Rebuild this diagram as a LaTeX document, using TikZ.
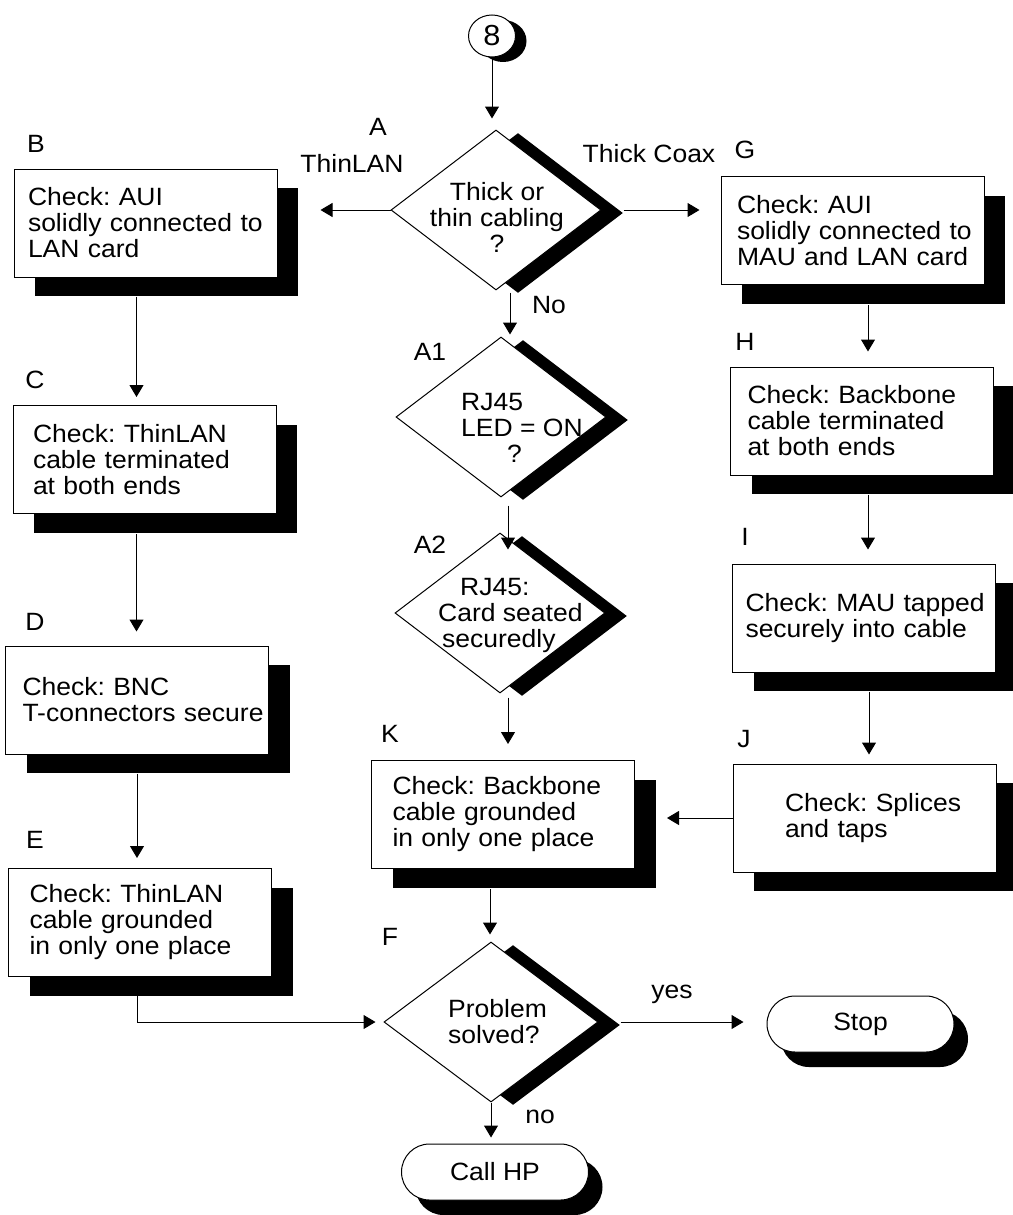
\documentclass[tikz,border=0pt]{standalone}
\usepackage{fontspec}
\setmainfont[FakeStretch=1.06]{Liberation Sans}
\usetikzlibrary{arrows.meta,shapes.geometric,shadows,calc}
\frenchspacing
\begin{document}
\begin{tikzpicture}[x=1pt,y=-1pt,
  every node/.style={font=\fontsize{25}{26}\selectfont},
  boxshadow/.style={drop shadow={opacity=1,fill=black,shadow xshift=21pt,shadow yshift=-19pt}},
  diashadow/.style={drop shadow={opacity=1,fill=black,shadow xshift=22pt,shadow yshift=-3pt}},
  termshadow/.style={drop shadow={opacity=1,fill=black,shadow xshift=14pt,shadow yshift=-15pt}},
  circshadow/.style={drop shadow={opacity=1,fill=black,shadow xshift=11pt,shadow yshift=-5pt}},
  checkbox/.style={rectangle, draw, fill=white, line width=1pt,
    minimum width=263pt, minimum height=108pt, text width=263pt,
    inner xsep=0pt, inner ysep=0pt, align=left, boxshadow},
  inset/.style={execute at begin node={\leftskip=#1pt}},
  decision/.style={diamond, draw, fill=white, line width=1pt,
    minimum width=210pt, minimum height=160pt, inner sep=0pt, diashadow},
  terminal/.style={rectangle, rounded corners=28pt, draw, fill=white, line width=1pt,
    minimum width=187pt, minimum height=56pt, inner sep=0pt, termshadow},
  connector/.style={ellipse, draw, fill=white, line width=1pt,
    minimum width=47pt, minimum height=42pt, inner sep=0pt, circshadow,
    font=\fontsize{29}{30}\selectfont},
  dtext/.style={inner sep=0pt},
  tag/.style={anchor=base, inner sep=0pt},
  arr/.style={line width=1pt, -{Triangle[length=12pt,width=14pt]}}
]
\useasboundingbox (0,0) rectangle (1012,1215);

% entry connector
\node[connector] (c8) at (492,36) {8};

% decisions
\node[decision] (A)  at (496,210)  {};
\node[dtext, align=center] (At) at (497,217) {Thick or\\thin cabling\\?};
\node[decision] (A1) at (501,417)  {};
\node[dtext, align=left, anchor=west] (A1t) at (461,428) {RJ45\\LED = ON\\\hspace*{46pt}?};
\node[decision] (A2) at (500,613)  {};
\node[dtext, align=left, anchor=west] (A2t) at (438,615) {\hspace*{22pt}RJ45:\\Card seated\\\hspace*{4pt}securedly};
\node[decision, minimum width=214pt] (F) at (491,1022) {};
\node[dtext, align=left, anchor=west] (Ft) at (448,1022) {Problem\\solved?};

% ThinLAN branch
\node[checkbox, inset=14] (B) at (145.5,223)   {Check: AUI\\solidly connected to\\LAN card};
\node[checkbox, inset=20] (C) at (144.5,459.5) {Check: ThinLAN\\cable terminated\\at both ends};
\node[checkbox, inset=17] (D) at (137,700)     {Check: BNC\\T-connectors secure};
\node[checkbox, inset=21] (E) at (140,922.5)   {Check: ThinLAN\\cable grounded\\in only one place};

% Thick coax branch
\node[checkbox, inset=16] (G) at (852.5,230.5) {Check: AUI\\solidly connected to\\MAU and LAN card};
\node[checkbox, inset=17] (H) at (862,421)     {Check: Backbone\\cable terminated\\at both ends};
\node[checkbox, inset=13] (I) at (864,618)     {Check: MAU tapped\\securely into cable};
\node[checkbox, inset=52] (J) at (864.5,818)   {Check: Splices\\and taps};
\node[checkbox, inset=21] (K) at (503,814.5)   {Check: Backbone\\cable grounded\\in only one place};

% terminals
\node[terminal] (stop) at (860.5,1024) {Stop};
\node[terminal] (call) at (495,1172)   {Call HP};

% step letters and branch labels
\node[tag] (lA)  at (378,135) {A};
\node[tag] (lA1) at (430,360) {A1};
\node[tag] (lA2) at (430,553) {A2};
\node[tag] (lB)  at (36,152)  {B};
\node[tag] (lC)  at (35,388)  {C};
\node[tag] (lD)  at (35,630)  {D};
\node[tag] (lE)  at (35,848)  {E};
\node[tag] (lF)  at (390,945) {F};
\node[tag] (lG)  at (745,158) {G};
\node[tag] (lH)  at (745,350) {H};
\node[tag] (lI)  at (745,545) {I};
\node[tag] (lJ)  at (744,747) {J};
\node[tag] (lK)  at (390,742) {K};
\node[tag] (lthin)  at (352,172)  {ThinLAN};
\node[tag] (lthick) at (649,162)  {Thick Coax};
\node[tag] (lno1)   at (549,313)  {No};
\node[tag] (lyes)   at (672,998)  {yes};
\node[tag] (lno2)   at (540,1123) {no};

% connectors
\draw[arr] (c8.south) -- ($(c8.south |- A.north)+(0,-11)$);
\draw[arr] (A.west) -- ($(B.east |- A.west)+(43,0)$);
\draw[arr] ($(A.east)+(22,0)$) -- ($(G.west |- A.east)+(-21,0)$);
\draw[arr] ($(A.south)+(14,2)$) coordinate (a0) -- ($(a0 |- A1.north)+(0,-2)$);
\draw[arr] ($(A1.south)+(7,8)$) coordinate (a1) -- ($(a1 |- A2.north)+(0,17)$);
\draw[arr] ($(A2.south)+(8,4)$) coordinate (a2) -- ($(a2 |- K.north)+(0,-16)$);
\draw[arr] ($(K.south)+(-13,20)$) coordinate (k0) -- ($(k0 |- F.north)+(0,-7)$);
\draw[arr] (F.south) -- ($(F.south |- call.north)+(0,-6)$);
\draw[arr] ($(F.east)+(22,0)$) -- ($(stop.west |- F.east)+(-23,0)$);

\draw[arr] ($(B.south)+(-9,19)$) coordinate (b0) -- ($(b0 |- C.north)+(0,-8)$);
\draw[arr] ($(C.south)+(-8,20)$) coordinate (c0) -- ($(c0 |- D.north)+(0,-14)$);
\draw[arr] ($(D.south)+(0,19)$) coordinate (d0) -- ($(d0 |- E.north)+(0,-10)$);
\draw[arr] ($(E.south)+(-3,18)$) |- ($(F.west)+(-8,0)$);

\draw[arr] ($(G.south)+(15.5,20)$) coordinate (g0) -- ($(g0 |- H.north)+(0,-15)$);
\draw[arr] ($(H.south)+(6,19)$) coordinate (h0) -- ($(h0 |- I.north)+(0,-14)$);
\draw[arr] ($(I.south)+(5,19)$) coordinate (i0) -- ($(i0 |- J.north)+(0,-9)$);
\draw[arr] (J.west) -- ($(K.east |- J.west)+(32,0)$);
\end{tikzpicture}
\end{document}
